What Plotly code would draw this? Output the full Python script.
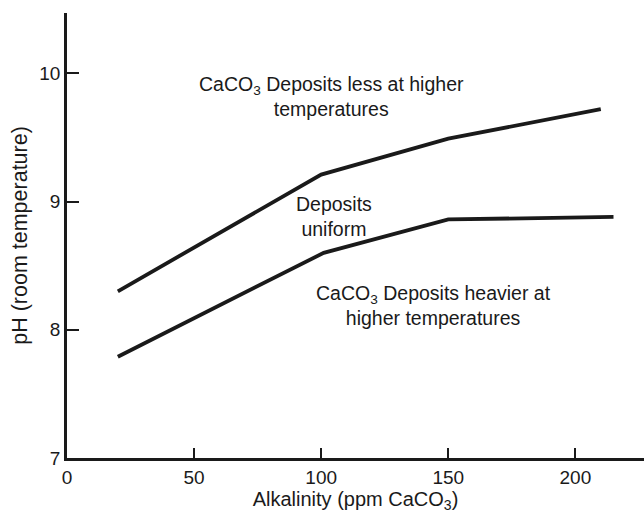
'''
    pH vs alkalinity chart with CaCO3 deposit regions.
'''

import plotly.graph_objects as go

# upper boundary line
upper_x = [20, 100, 150, 210]
upper_y = [8.30, 9.21, 9.49, 9.72]

# lower boundary line
lower_x = [20, 101, 150, 215]
lower_y = [7.79, 8.60, 8.86, 8.88]

x_ticks = [0, 50, 100, 150, 200]
y_ticks = [7, 8, 9, 10]

# region labels
label_text = [
    'CaCO<sub>3</sub> Deposits less at higher<br>temperatures',
    'Deposits<br>uniform',
    'CaCO<sub>3</sub> Deposits heavier at<br>higher temperatures',
]
label_x = [104, 105, 144]
label_y = [9.82, 8.88, 8.19]

FONT = 'Liberation Sans, Arial, sans-serif'

fig = go.Figure()
for xs, ys in [(upper_x, upper_y), (lower_x, lower_y)]:
    fig.add_trace(go.Scatter(x=xs, y=ys, mode='lines',
                             line=dict(color='#1a1a1a', width=3.8),
                             showlegend=False, hoverinfo='skip'))

for t, x, y in zip(label_text, label_x, label_y):
    fig.add_annotation(x=x, y=y, text=t, showarrow=False,
                       font=dict(size=19.5, color='#1a1a1a', family=FONT),
                       align='center')

fig.update_layout(
    width=644, height=513,
    margin=dict(l=67, r=0, t=13, b=55),
    plot_bgcolor='white', paper_bgcolor='white',
    font=dict(family=FONT, size=19, color='#1a1a1a'),
)

fig.update_xaxes(
    range=[0, 227], tickvals=x_ticks, ticks='inside', ticklen=10, tickwidth=1.5,
    tickcolor='#1a1a1a', showline=True, linecolor='#1a1a1a', linewidth=2.5,
    showgrid=False, zeroline=False,
    title=dict(text='Alkalinity (ppm CaCO<sub>3</sub>)', standoff=8,
               font=dict(family=FONT, size=20)),
)
fig.update_yaxes(
    range=[7, 10.47], tickvals=y_ticks, ticks='inside', ticklen=12, tickwidth=1.5,
    tickcolor='#1a1a1a', showline=True, linecolor='#1a1a1a', linewidth=2.5,
    showgrid=False, zeroline=False,
    title=dict(text='pH (room temperature)', standoff=6,
               font=dict(family=FONT, size=21.5)),
)

# drop the page margin so the figure sits at the window corner
fig.write_html('out.html', config={'displayModeBar': False},
               post_script="document.body.style.margin='0';")
